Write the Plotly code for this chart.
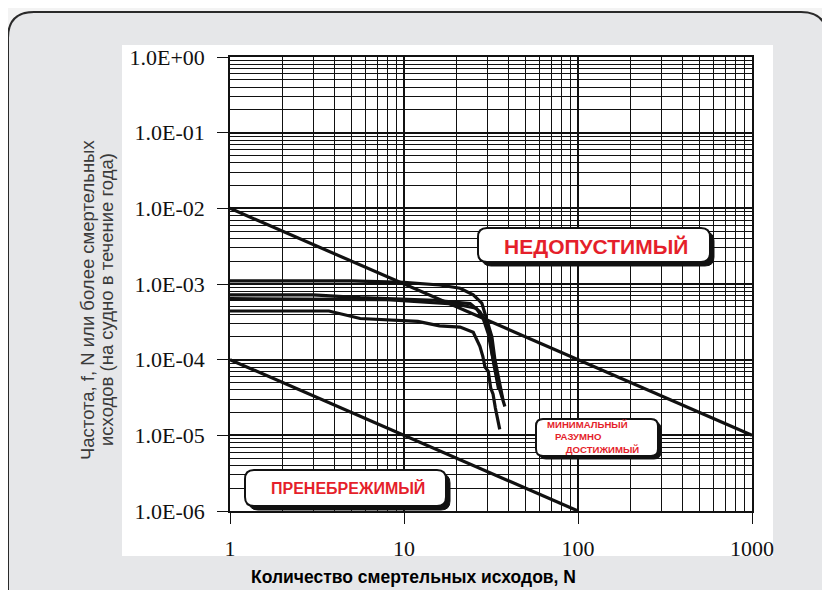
import plotly.graph_objects as go

# ---------------- data ----------------
crit_upper_N = [1, 1000]
crit_upper_F = [1e-2, 1e-5]
crit_lower_N = [1, 100]
crit_lower_F = [1e-4, 1e-6]

curve_a_N = [1, 5, 10, 16, 21, 25, 28, 30, 32, 33.3, 35, 37]
curve_a_F = [1.1e-3, 1.1e-3, 1.05e-3, 9.7e-4, 8.8e-4, 7.2e-4, 5.6e-4, 3.4e-4, 2.0e-4, 1.0e-4, 5.5e-5, 3.0e-5]

curve_b_N = [1, 3, 5.6, 15, 24, 27.3, 30, 31.2, 32.5, 34, 35]
curve_b_F = [7.2e-4, 7.2e-4, 6.6e-4, 6.1e-4, 5.5e-4, 4.3e-4, 3.0e-4, 2.0e-4, 1.0e-4, 5.5e-5, 4.0e-5]

curve_c_N = [1, 8, 20, 26, 28.5, 30.5, 32, 33.5, 35.5, 38]
curve_c_F = [6.4e-4, 6.2e-4, 5.4e-4, 4.8e-4, 3.5e-4, 2.2e-4, 1.2e-4, 7.0e-5, 4.0e-5, 2.4e-5]

curve_d_N = [1, 3.7, 5.6, 12, 16, 21, 25, 27.3, 28.4, 29.2, 30.5, 31.5, 32.5, 33.5, 35.5]
curve_d_F = [4.4e-4, 4.4e-4, 3.5e-4, 3.2e-4, 2.8e-4, 2.7e-4, 2.3e-4, 1.5e-4, 1.1e-4, 8.0e-5, 7.0e-5, 4.2e-5, 3.5e-5, 2.3e-5, 1.2e-5]

x_tickvals = [1, 10, 100, 1000]
x_ticktext = ["1", "10", "100", "1000"]
y_tickvals = [1e-6, 1e-5, 1e-4, 1e-3, 1e-2, 1e-1, 1]
y_ticktext = ["1.0E-06", "1.0E-05", "1.0E-04", "1.0E-03", "1.0E-02", "1.0E-01", "1.0E+00"]

label_unacceptable = "НЕДОПУСТИМЫЙ"
label_alarp = ["МИНИМАЛЬНЫЙ", "РАЗУМНО", "ДОСТИЖИМЫЙ"]
label_negligible = "ПРЕНЕБРЕЖИМЫЙ"
x_title = "Количество смертельных исходов, N"
y_title_lines = ["Частота, f, N или более смертельных", "исходов (на судно в течение года)"]

# ---------------- layout geometry ----------------
# page body has an 8px margin; coordinates below are given in window pixels
OFF = 8
WIN_W, WIN_H = 830, 590
W, H = WIN_W - OFF, WIN_H - OFF
L, R, T, B = 230, 752, 57, 511   # plot area in window pixels


def px(x):
    return (x - L) / (R - L)


def py(y):
    return (B - y) / (B - T)


def rrect(x0, y0, x1, y1, r):
    pts = [
        ("M", (x0 + r, y0)), ("L", (x1 - r, y0)), ("Q", (x1, y0), (x1, y0 + r)),
        ("L", (x1, y1 - r)), ("Q", (x1, y1), (x1 - r, y1)),
        ("L", (x0 + r, y1)), ("Q", (x0, y1), (x0, y1 - r)),
        ("L", (x0, y0 + r)), ("Q", (x0, y0), (x0 + r, y0)),
    ]
    s = ""
    for p in pts:
        coords = " ".join(f"{px(a):.5f},{py(b):.5f}" for a, b in p[1:])
        s += f"{p[0]} {coords} "
    return s + "Z"


fig = go.Figure()

line_style = dict(color="#111111", width=3.2)
for xs, ys in [(crit_upper_N, crit_upper_F), (crit_lower_N, crit_lower_F),
               (curve_a_N, curve_a_F), (curve_b_N, curve_b_F),
               (curve_c_N, curve_c_F), (curve_d_N, curve_d_F)]:
    fig.add_trace(go.Scatter(x=xs, y=ys, mode="lines", line=line_style,
                             showlegend=False, hoverinfo="skip"))

shapes = []
shapes.append(dict(type="path", xref="paper", yref="paper", layer="below",
                   path=rrect(8, 12, 827, 640, 26),
                   fillcolor="#e6e7e9", line=dict(color="#2a2a2a", width=2)))
shapes.append(dict(type="rect", xref="paper", yref="paper", layer="below",
                   x0=px(122), x1=px(773), y0=py(556), y1=py(45),
                   fillcolor="white", line=dict(width=0)))


def label_box(x0, y0, x1, y1, r, shadow=4):
    shapes.append(dict(type="path", xref="paper", yref="paper", layer="above",
                       path=rrect(x0 + shadow, y0 + shadow, x1 + shadow, y1 + shadow, r),
                       fillcolor="#111111", line=dict(color="#111111", width=1)))
    shapes.append(dict(type="path", xref="paper", yref="paper", layer="above",
                       path=rrect(x0, y0, x1, y1, r),
                       fillcolor="white", line=dict(color="#111111", width=2)))


label_box(478, 228, 710, 262, 9)
label_box(536, 419, 658, 456, 7, shadow=3)
label_box(245, 470, 446, 506, 9)

red = "#e51f2b"
annotations = [
    dict(text=label_unacceptable, x=px(596), y=py(246), xref="paper", yref="paper",
         xanchor="center", yanchor="middle", showarrow=False,
         font=dict(family="Liberation Sans", size=21, color=red, weight="bold")),
    dict(text=label_negligible, x=px(348), y=py(488), xref="paper", yref="paper",
         xanchor="center", yanchor="middle", showarrow=False,
         font=dict(family="Liberation Sans", size=16, color=red, weight="bold")),
]
nb = "\u00a0"
alarp_text = (label_alarp[0] + "<br>" + nb * 3 + label_alarp[1] + "<br>"
              + nb * 7 + label_alarp[2])
annotations.append(dict(text=alarp_text, x=px(545), y=py(437), xref="paper", yref="paper",
                        xanchor="left", yanchor="middle", align="left", showarrow=False,
                        font=dict(family="Liberation Sans", size=9.6, color=red, weight="bold")))

for txt, xc in zip(y_title_lines, [87, 106]):
    annotations.append(dict(text=txt, x=px(xc), y=py(300), xref="paper", yref="paper",
                            textangle=-90, showarrow=False, xanchor="center", yanchor="middle",
                            font=dict(family="Liberation Sans", size=18.5, color="#3a3a3a")))
annotations.append(dict(text=x_title, x=px(413), y=py(577), xref="paper", yref="paper",
                        showarrow=False, xanchor="center", yanchor="middle",
                        font=dict(family="Liberation Sans", size=17.5, color="black", weight="bold")))

axis_common = dict(
    type="log", showgrid=True, gridcolor="#111111", gridwidth=1.6,
    showline=True, linecolor="#111111", linewidth=1.6, mirror=True,
    ticks="outside", ticklen=11, tickcolor="#111111", tickwidth=1.4,
    tickfont=dict(family="Liberation Serif", size=22, color="#111111"),
    zeroline=False,
)

fig.update_layout(
    width=W, height=H,
    margin=dict(l=L - OFF, r=W - (R - OFF), t=T - OFF, b=H - (B - OFF), pad=0),
    paper_bgcolor="#f3f3f3", plot_bgcolor="rgba(0,0,0,0)",
    shapes=shapes, annotations=annotations, showlegend=False,
    xaxis=dict(axis_common, range=[0, 3], tickvals=x_tickvals, ticktext=x_ticktext,
               ticklabelstandoff=6,
               minor=dict(dtick="D1", showgrid=True, gridcolor="#111111", gridwidth=1.4, ticks="")),
    yaxis=dict(axis_common, range=[-6, 0], tickvals=y_tickvals, ticktext=y_ticktext,
               ticklabelstandoff=8,
               minor=dict(dtick="D1", showgrid=True, gridcolor="#111111", gridwidth=1.1, ticks="")),
)

fig.write_html("out.html")
